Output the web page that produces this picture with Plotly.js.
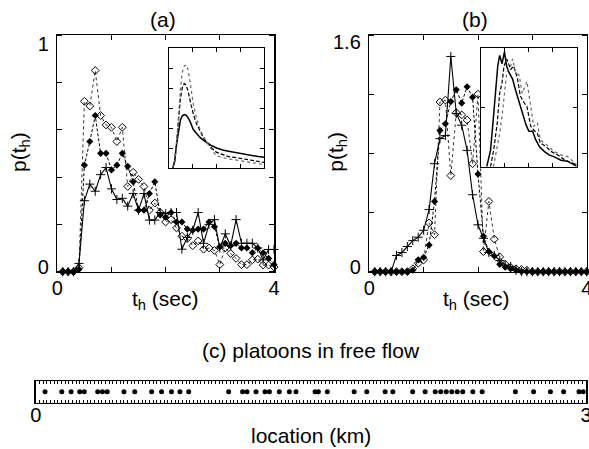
<!DOCTYPE html>
<html><head><meta charset="utf-8">
<script src="https://cdn.plot.ly/plotly-3.0.1.min.js"></script>
<style>html,body{margin:0;padding:0;background:#fff;} #chart{width:589px;height:449px;}</style>
</head><body><div id="chart"></div>
<script>
// ---------- data ----------
const tGrid = [0.1,0.2,0.3,0.4,0.5,0.6,0.7,0.8,0.9,1.0,1.1,1.2,1.3,1.4,1.5,1.6,1.7,1.8,1.9,2.0,
               2.1,2.2,2.3,2.4,2.5,2.6,2.7,2.8,2.9,3.0,3.1,3.2,3.3,3.4,3.5,3.6,3.7,3.8,3.9,4.0];

// panel (a)
const aPlus   = [0,0,0,0.035,0.30,0.37,0.34,0.41,0.44,0.35,0.305,0.31,0.277,0.33,0.26,0.33,0.218,0.218,0.25,0.245,
                 0.25,0.25,0.095,0.145,0.175,0.25,0.12,0.20,0.22,0.10,0.16,0.11,0.22,0.12,0.12,0.12,0.10,0.05,0.094,0.094];
const aFilled = [0,0,0,0.01,0.45,0.55,0.66,0.50,0.50,0.43,0.45,0.50,0.445,0.38,0.26,0.26,0.33,0.38,0.24,0.23,
                 0.25,0.21,0.21,0.18,0.175,0.18,0.18,0.21,0.19,0.105,0.12,0.11,0.12,0.10,0.10,0.08,0.10,0.08,0.056,0.03];
const aOpen   = [0,0,0,0.017,0.72,0.70,0.85,0.66,0.62,0.61,0.55,0.61,0.36,0.42,0.39,0.36,0.26,0.29,0.25,0.21,
                 0.22,0.185,0.15,0.14,0.11,0.13,0.095,0.10,0.09,0.03,0.10,0.077,0.056,0.03,0.03,0.05,0.053,0.028,0.028,0.02];

// panel (b)
const bPlus   = [0,0,0,0,0.11,0.13,0.17,0.21,0.233,0.28,0.42,0.73,0.90,0.92,1.455,1.07,0.99,0.82,0.52,0.317,
                 0.226,0.13,0.11,0.075,0.045,0.035,0.01,0,0,0,0,0,0,0,0,0,0,0,0,0];
const bFilled = [0,0,0,0,0,0,0,0.01,0.08,0.097,0.18,0.475,0.955,1.0,1.15,1.23,1.14,1.25,1.18,0.66,
                 0.24,0.136,0.106,0.05,0.03,0.02,0.01,0,0,0,0,0,0,0,0,0,0,0,0,0];
const bOpen   = [0,0,0,0,0,0,0,0.02,0.057,0.08,0.33,0.25,1.147,1.16,0.65,1.075,1.06,1.025,0.73,1.20,
                 0.136,0.475,0.22,0.10,0.05,0.03,0.02,0.015,0.01,0,0,0,0,0,0,0,0,0,0,0];

// inset (a) curves
const insAx      = [0.16,0.24,0.32,0.40,0.48,0.56,0.64,0.72,0.80,0.90,1.02,1.15,1.30,1.45,1.60,1.80,2.00,2.25,2.50,2.75,3.00,3.25,3.50,3.75,4.00];
const insASolid  = [0,0.36,1.2,1.92,2.4,2.61,2.67,2.64,2.52,2.28,1.92,1.74,1.53,1.38,1.26,1.11,1.0,0.9,0.84,0.78,0.72,0.66,0.6,0.57,0.54];
const insADashed = [0,0.36,1.32,2.52,3.48,4.02,4.23,4.14,3.84,3.3,2.7,2.22,1.83,1.5,1.26,0.99,0.78,0.66,0.57,0.53,0.48,0.42,0.36,0.32,0.28];
const insADotted = [0,0.3,1.2,2.7,3.96,4.8,5.1,5.16,4.92,4.2,3.18,2.52,1.95,1.56,1.26,0.9,0.6,0.51,0.45,0.41,0.36,0.3,0.24,0.2,0.17];

// inset (b) curves
const insBSolidX  = [0.24,0.40,0.50,0.60,0.70,0.78,0.88,0.98,1.07,1.16,1.32,1.44,1.60,1.72,1.88,2.00,2.16,2.28,2.44,2.64,2.84,3.04,3.34,3.62,4.0];
const insBSolidY  = [0,0.28,0.74,1.24,1.70,1.88,1.74,1.94,1.70,1.60,1.48,1.30,1.08,0.94,0.71,0.60,0.60,0.46,0.34,0.26,0.20,0.17,0.11,0.09,0.01];
const insBDashedX = [0.40,0.53,0.68,0.78,0.88,0.96,1.08,1.24,1.36,1.52,1.64,1.80,1.92,2.08,2.20,2.36,2.48,2.72,2.92,3.20,3.48,4.0];
const insBDashedY = [0,0.28,0.74,1.24,1.42,1.70,1.82,1.64,1.70,1.50,1.20,1.08,1.02,0.68,0.62,0.56,0.40,0.34,0.26,0.20,0.12,0.03];
const insBDottedX = [0.52,0.68,0.78,0.88,0.98,1.08,1.24,1.32,1.44,1.60,1.72,1.92,2.08,2.20,2.36,2.48,2.64,2.84,3.04,3.34,3.62,4.0];
const insBDottedY = [0,0.34,0.56,0.86,1.24,1.60,1.70,1.82,1.60,1.54,1.24,1.44,1.02,0.68,0.74,0.46,0.40,0.34,0.26,0.20,0.17,0.04];

// panel (c) vehicle positions (km)
const carPos = [0.051,0.142,0.193,0.240,0.265,0.338,0.364,0.390,0.481,0.540,0.632,0.686,0.740,0.786,0.834,
                1.052,1.128,1.152,1.201,1.250,1.274,1.328,1.383,1.419,1.523,1.541,1.590,1.736,1.805,1.905,1.947,
                2.055,2.123,2.178,2.208,2.238,2.268,2.298,2.328,2.383,2.434,2.615,2.714,2.806,2.878,2.962,2.985];

// tick labels
const aYTickText = ['0','1'];
const bYTickText = ['0','1.6'];
const tXTickText = ['0','','','','4'];
const cXTickText = ['0','3'];

// ---------- traces ----------
const FONT = 'Liberation Sans, Arial, Helvetica, sans-serif';
function mainTraces(xa, ya, open, plus, filled) {
  return [
    {x: tGrid, y: open, xaxis: xa, yaxis: ya, mode: 'lines+markers', cliponaxis: false,
     line: {color: '#333', width: 1, dash: 'dot'},
     marker: {symbol: 'diamond-open', size: 6, color: '#000', line: {width: 1, color: '#222'}}},
    {x: tGrid, y: plus, xaxis: xa, yaxis: ya, mode: 'lines+markers', cliponaxis: false,
     line: {color: '#000', width: 1.1},
     marker: {symbol: 'cross-thin-open', size: 6.5, color: '#000', line: {width: 1, color: '#000'}}},
    {x: tGrid, y: filled, xaxis: xa, yaxis: ya, mode: 'lines+markers', cliponaxis: false,
     line: {color: '#000', width: 1, dash: '3px,2px'},
     marker: {symbol: 'diamond', size: 5.5, color: '#000'}}
  ];
}
const data = [].concat(
  mainTraces('x', 'y', aOpen, aPlus, aFilled),
  mainTraces('x2', 'y2', bOpen, bPlus, bFilled),
  [
    {x: insAx, y: insASolid,  xaxis: 'x4', yaxis: 'y4', mode: 'lines', line: {color: '#000', width: 1.5}},
    {x: insAx, y: insADashed, xaxis: 'x4', yaxis: 'y4', mode: 'lines', line: {color: '#000', width: 1.2, dash: '4px,2px'}},
    {x: insAx, y: insADotted, xaxis: 'x4', yaxis: 'y4', mode: 'lines', line: {color: '#666', width: 1.2, dash: 'dot'}},
    {x: insBSolidX,  y: insBSolidY,  xaxis: 'x5', yaxis: 'y5', mode: 'lines', line: {color: '#000', width: 1.5}},
    {x: insBDashedX, y: insBDashedY, xaxis: 'x5', yaxis: 'y5', mode: 'lines', line: {color: '#000', width: 1.2, dash: '4px,2px'}},
    {x: insBDottedX, y: insBDottedY, xaxis: 'x5', yaxis: 'y5', mode: 'lines', line: {color: '#666', width: 1.2, dash: 'dot'}},
    {x: carPos, y: carPos.map(() => 0.5), xaxis: 'x3', yaxis: 'y3', mode: 'markers', cliponaxis: false,
     marker: {symbol: 'circle', size: 5, color: '#000'}}
  ]
);

// ---------- layout ----------
const W = 589, H = 449;
const px = v => v / W;
const py = v => (H - v) / H;
const frame = {showline: true, linecolor: '#000', linewidth: 1.5, showgrid: false, zeroline: false,
               tickcolor: '#000', tickwidth: 1, ticklabeloverflow: 'allow',
               tickfont: {family: FONT, size: 20, color: '#000'}};
const inset = {showline: true, linecolor: '#000', linewidth: 1, showgrid: false, zeroline: false,
               mirror: 'ticks', ticks: 'inside', ticklen: 4, tickcolor: '#000', tickwidth: 1,
               showticklabels: false, tickmode: 'linear', tick0: 0, dtick: 1};
const mainTop = 35, mainBot = 271.7;

const layout = {
  width: W, height: H, margin: {l: 0, r: 0, t: 0, b: 0},
  paper_bgcolor: '#fff', plot_bgcolor: '#fff', showlegend: false,
  font: {family: FONT, color: '#000'},
  xaxis: Object.assign({}, frame, {domain: [px(57.3), px(274)], range: [0, 4], anchor: 'y',
    tickmode: 'array', tickvals: [0,1,2,3,4], ticktext: tXTickText, ticks: 'inside', ticklen: 5,
    mirror: 'ticks', ticklabelstandoff: -2}),
  yaxis: Object.assign({}, frame, {domain: [py(mainBot), py(mainTop)], range: [0, 1], anchor: 'x',
    tickmode: 'array', tickvals: [0.02, 0.964], ticktext: aYTickText, ticks: '', mirror: 'ticks',
    ticklabelstandoff: 3,
    minor: {tickmode: 'linear', tick0: 0, dtick: 0.2, ticks: 'inside', ticklen: 5, tickwidth: 1, tickcolor: '#000', showgrid: false}}),
  xaxis2: Object.assign({}, frame, {domain: [px(369.3), px(586.7)], range: [0, 4], anchor: 'y2',
    tickmode: 'array', tickvals: [0,1,2,3,4], ticktext: tXTickText, ticks: 'inside', ticklen: 5,
    mirror: 'ticks', ticklabelstandoff: -2}),
  yaxis2: Object.assign({}, frame, {domain: [py(mainBot), py(mainTop)], range: [0, 1.6], anchor: 'x2',
    tickmode: 'array', tickvals: [0.034, 1.55], ticktext: bYTickText, ticks: '', mirror: 'ticks',
    ticklabelstandoff: 3,
    minor: {tickmode: 'linear', tick0: 0, dtick: 0.4, ticks: 'inside', ticklen: 5, tickwidth: 1, tickcolor: '#000', showgrid: false}}),
  xaxis3: Object.assign({}, frame, {domain: [px(35.7), px(586)], range: [0, 3], anchor: 'y3',
    tickmode: 'array', tickvals: [0, 3], ticktext: cXTickText, ticks: 'inside', ticklen: 3,
    mirror: 'ticks', ticklabelstandoff: -6,
    minor: {tickmode: 'linear', tick0: 0, dtick: 0.02, ticks: 'inside', ticklen: 3, tickwidth: 1, tickcolor: '#000', showgrid: false}}),
  yaxis3: Object.assign({}, frame, {domain: [py(402.7), py(381)], range: [0, 1], anchor: 'x3',
    ticks: '', showticklabels: false, mirror: true}),
  xaxis4: Object.assign({}, inset, {domain: [px(169), px(264.3)], range: [0, 4], anchor: 'y4'}),
  yaxis4: Object.assign({}, inset, {domain: [py(168), py(48)], range: [0, 6], anchor: 'x4'}),
  xaxis5: Object.assign({}, inset, {domain: [px(481), px(576.7)], range: [0, 4], anchor: 'y5'}),
  yaxis5: Object.assign({}, inset, {domain: [py(166.7), py(48.3)], range: [0, 2], anchor: 'x5'}),
  annotations: [
    {text: '(a)', x: px(162.7), y: py(19)},
    {text: '(b)', x: px(475), y: py(19)},
    {text: 'p(t<sub>h</sub>)', x: px(20), y: py(152), textangle: -90},
    {text: 'p(t<sub>h</sub>)', x: px(336.7), y: py(152), textangle: -90},
    {text: 't<sub>h</sub> (sec)', x: px(165), y: py(300)},
    {text: 't<sub>h</sub> (sec)', x: px(476.5), y: py(300)},
    {text: '(c) platoons in free flow', x: px(310.5), y: py(350)},
    {text: 'location (km)', x: px(310.5), y: py(435)}
  ].map(a => Object.assign({xref: 'paper', yref: 'paper', showarrow: false, xanchor: 'center', yanchor: 'middle',
                            font: {family: FONT, size: 21, color: '#000'}}, a))
};

Plotly.newPlot('chart', data, layout, {staticPlot: true, displayModeBar: false});
</script></body></html>
